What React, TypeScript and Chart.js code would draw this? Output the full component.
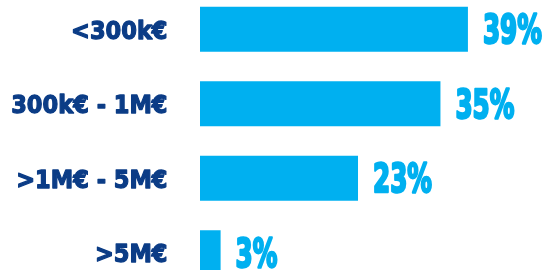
import React, { useEffect, useRef } from "react";
import { Chart, registerables } from "chart.js";

Chart.register(...registerables);

const categories = ["<300k€", "300k€ - 1M€", ">1M€ - 5M€", ">5M€"];
const values = [39, 35, 23, 3];
const valueLabels = ["39%", "35%", "23%", "3%"];

const BAR_COLOR = "#00B0F0";
const LABEL_COLOR = "#0B3C86";
const FONT = '"DejaVu Sans", sans-serif';

const textPlugin = {
  id: "textLabels",
  afterDatasetsDraw(chart: any) {
    const ctx = chart.ctx;
    const meta = chart.getDatasetMeta(0);
    meta.data.forEach((bar: any, i: number) => {
      // value label
      ctx.save();
      ctx.fillStyle = BAR_COLOR;
      ctx.strokeStyle = BAR_COLOR;
      ctx.lineWidth = 2.6;
      ctx.lineJoin = "round";
      ctx.font = `bold 38.5px ${FONT}`;
      ctx.textAlign = "left";
      ctx.textBaseline = "alphabetic";
      ctx.translate(bar.x + 15, bar.y + 14);
      ctx.scale(0.64, 1);
      ctx.strokeText(valueLabels[i], 0, 0);
      ctx.fillText(valueLabels[i], 0, 0);
      ctx.restore();
      // category label
      ctx.save();
      ctx.fillStyle = LABEL_COLOR;
      ctx.strokeStyle = LABEL_COLOR;
      ctx.lineWidth = 1.3;
      ctx.lineJoin = "round";
      ctx.font = `bold 25px ${FONT}`;
      ctx.textAlign = "right";
      ctx.textBaseline = "alphabetic";
      ctx.translate(167.5, bar.y + 9.6);
      ctx.scale(0.9, 1);
      ctx.strokeText(categories[i], 0, 0);
      ctx.fillText(categories[i], 0, 0);
      ctx.restore();
    });
  },
};

export default function App() {
  const ref = useRef<HTMLCanvasElement | null>(null);
  useEffect(() => {
    if (!ref.current) return;
    const chart = new Chart(ref.current, {
      type: "bar",
      data: {
        labels: categories,
        datasets: [
          {
            data: values,
            backgroundColor: BAR_COLOR,
            borderWidth: 0,
            categoryPercentage: 1,
            barPercentage: 0.604,
          },
        ],
      },
      options: {
        indexAxis: "y",
        animation: false,
        responsive: false,
        maintainAspectRatio: false,
        layout: { padding: { left: 0, right: 6.5, top: 0, bottom: 0 } },
        plugins: { legend: { display: false }, tooltip: { enabled: false } },
        scales: {
          x: { min: 0, max: 50, display: false },
          y: {
            grid: { display: false, drawTicks: false },
            border: { display: false },
            ticks: { display: false },
            afterFit(scale: any) {
              scale.width = 200;
            },
          },
        },
      },
      plugins: [textPlugin],
    });
    return () => chart.destroy();
  }, []);
  return (
    <div style={{ position: "absolute", left: 0, top: -8, width: 550, height: 298 }}>
      <canvas ref={ref} width={550} height={298} style={{ width: 550, height: 298 }} />
    </div>
  );
}
